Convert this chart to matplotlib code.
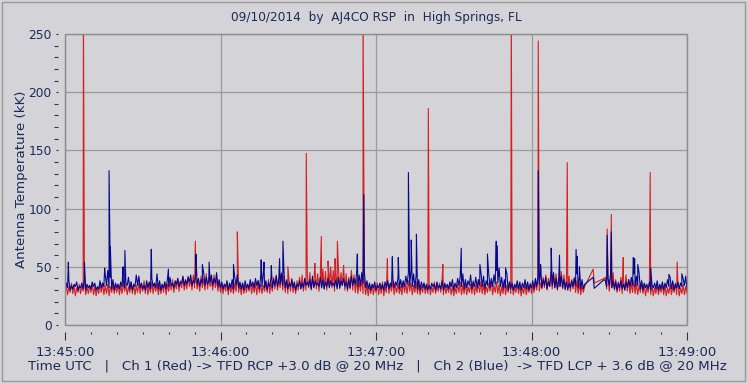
#!/usr/bin/env python3
"""Radio JOVE style strip chart: two channels of antenna temperature vs time."""

import numpy as np
import matplotlib
matplotlib.use("Agg")
import matplotlib.pyplot as plt
from matplotlib.patches import Rectangle

# Background band read per second from 13:45:00: lower and upper edge (None = no data)
BLUE_LO = [
    31, 32, 30, 31, 33, 30, 32, 31, 30, 32, 31, 33, 30, 31, 32, 33, 34, 32, 31, 30,
    32, 31, 33, 32, 34, 31, 30, 33, 34, 32, 31, 30, 32, 31, 33, 32, 31, 30, 32, 31,
    33, 34, 32, 35, 33, 36, 34, 35, 37, 34, 36, 35, 33, 36, 34, 35, 37, 34, 36, 33,
    32, 31, 33, 30, 32, 31, 34, 32, 31, 30, 32, 31, 33, 32, 34, 31, 33, 32, 30, 33,
    32, 34, 33, 35, 34, 32, 31, 33, 32, 30, 33, 31, 32, 34, 33, 31, 32, 34, 33, 32,
    31, 33, 32, 34, 33, 31, 32, 34, 33, 31, 32, 34, 35, 33, 34, 36, 32, 31, 30, 32,
    30, 32, 31, 30, 32, 31, 33, 32, 34, 31, 32, 33, 35, 34, 33, 32, 31, 30, 32, 31,
    30, 31, 33, 30, 32, 31, 30, 32, 31, 33, 30, 32, 34, 33, 31, 32, 34, 31, 33, 32,
    34, 33, 31, 34, 32, 33, 35, 36, 33, 31, 32, 30, 31, 30, 32, 31, 30, 32, 31, 30,
    32, 31, 33, 35, 32, 34, 31, 33, 34, 32, 31, 33, 32, 31, 30, 32, 33, 34, 32, 31,
    31, None, None, None, None, None, None, None, 39, 33, 34, 32, 31, 30, 32, 31, 30, 32, 33, 34,
    33, 34, 31, 30, 32, 31, 30, 32, 31, 30, 31, 30, 32, 33, 31, 30, 32, 31, 33, 34,
    31,
]
BLUE_HI = [
    36, 38, 34, 35, 37, 33, 36, 39, 35, 34, 37, 36, 33, 38, 36, 44, 47, 41, 39, 36,
    35, 37, 38, 36, 41, 37, 35, 43, 42, 36, 34, 38, 37, 40, 36, 44, 38, 35, 37, 39,
    41, 36, 38, 40, 37, 42, 39, 41, 43, 38, 44, 40, 39, 45, 41, 38, 43, 40, 45, 39,
    37, 35, 38, 36, 39, 41, 43, 37, 36, 38, 35, 39, 37, 40, 38, 42, 44, 38, 36, 41,
    39, 42, 40, 44, 45, 38, 36, 39, 37, 35, 38, 36, 40, 37, 39, 42, 38, 36, 41, 39,
    37, 40, 38, 36, 39, 41, 38, 40, 37, 39, 42, 40, 44, 43, 45, 46, 38, 36, 35, 37,
    34, 36, 35, 37, 38, 36, 40, 37, 41, 39, 38, 42, 45, 47, 44, 43, 39, 37, 36, 35,
    34, 36, 35, 37, 34, 38, 36, 35, 37, 39, 36, 40, 42, 44, 39, 38, 43, 37, 41, 39,
    45, 42, 38, 44, 40, 43, 47, 49, 41, 39, 44, 37, 36, 35, 38, 37, 36, 39, 37, 35,
    38, 40, 42, 46, 39, 41, 37, 43, 45, 40, 38, 42, 39, 37, 36, 38, 40, 44, 42, 39,
    35, None, None, None, None, None, None, None, 38, 40, 44, 38, 37, 36, 38, 35, 37, 39, 41, 44,
    42, 45, 38, 36, 35, 37, 34, 36, 38, 35, 37, 36, 39, 41, 38, 35, 37, 36, 40, 42,
    36,
]
RED_LO = [
    27, 26, 28, 27, 25, 28, 27, 29, 26, 27, 28, 26, 25, 27, 28, 26, 27, 25, 28, 27,
    28, 26, 27, 29, 26, 28, 27, 26, 28, 27, 29, 27, 26, 28, 27, 29, 26, 27, 28, 26,
    29, 30, 28, 31, 29, 32, 30, 31, 33, 30, 32, 31, 29, 32, 30, 31, 33, 30, 32, 29,
    28, 27, 29, 26, 28, 27, 29, 28, 26, 27, 28, 29, 27, 28, 26, 28, 27, 29, 28, 27,
    29, 31, 30, 32, 30, 28, 27, 29, 28, 27, 30, 31, 29, 30, 32, 30, 33, 31, 29, 32,
    31, 30, 33, 32, 29, 33, 31, 34, 30, 29, 31, 30, 28, 27, 29, 27, 26, 25, 27, 26,
    28, 26, 27, 25, 28, 27, 29, 26, 28, 27, 26, 28, 27, 29, 26, 28, 27, 26, 28, 27,
    27, 26, 28, 27, 29, 28, 26, 27, 28, 26, 25, 27, 28, 26, 27, 26, 28, 27, 26, 28,
    28, 27, 26, 28, 29, 26, 28, 27, 25, 27, 26, 28, 27, 26, 28, 27, 25, 27, 26, 28,
    27, 28, 30, 29, 31, 32, 30, 33, 31, 32, 30, 33, 31, 30, 32, 29, 31, 28, 27, 26,
    28, None, None, None, None, None, None, None, 40, 31, 29, 32, 30, 28, 29, 27, 30, 29, 27, 28,
    27, 26, 28, 27, 25, 28, 26, 25, 27, 26, 28, 26, 25, 27, 26, 28, 26, 25, 27, 26,
    27,
]
RED_HI = [
    34, 33, 36, 34, 32, 35, 34, 37, 33, 34, 36, 33, 32, 35, 36, 34, 35, 33, 35, 34,
    35, 34, 36, 35, 33, 37, 35, 34, 36, 35, 38, 36, 34, 37, 35, 36, 34, 35, 37, 35,
    37, 39, 36, 40, 38, 41, 37, 42, 39, 43, 40, 38, 42, 40, 44, 41, 39, 43, 40, 38,
    36, 35, 37, 35, 34, 36, 38, 35, 36, 34, 35, 37, 35, 36, 38, 35, 34, 37, 39, 36,
    41, 43, 40, 45, 42, 39, 37, 40, 36, 38, 41, 43, 40, 42, 45, 39, 47, 44, 41, 48,
    46, 43, 50, 47, 42, 49, 45, 51, 44, 41, 47, 43, 39, 37, 40, 36, 34, 33, 35, 34,
    36, 34, 37, 33, 39, 35, 38, 34, 36, 33, 37, 35, 38, 36, 34, 37, 35, 33, 36, 34,
    35, 33, 37, 34, 36, 39, 35, 33, 36, 34, 32, 35, 37, 34, 36, 33, 35, 38, 34, 36,
    37, 35, 33, 36, 38, 34, 37, 35, 33, 36, 34, 37, 35, 33, 36, 34, 32, 35, 33, 36,
    34, 37, 39, 36, 41, 43, 40, 45, 42, 44, 41, 46, 43, 40, 42, 39, 41, 38, 36, 34,
    33, None, None, None, None, None, None, None, 41, 43, 40, 45, 39, 37, 41, 38, 43, 39, 36, 38,
    36, 34, 37, 35, 33, 36, 34, 32, 35, 33, 36, 34, 32, 35, 33, 36, 34, 32, 35, 33,
    34,
]

# Short bursts: seconds after 13:45:00 and level (kK)
RED_SPIKE_T = [7.1, 50.3, 66.5, 86.0, 93.1, 96.4, 98.9, 101.5, 104.2, 105.1, 107.5,
               115.0, 124.4, 140.2, 145.8, 172.2, 182.6, 193.8, 203.8, 204.2,
               209.2, 210.8, 215.4, 225.8, 236.2]
RED_SPIKE_V = [275, 72, 80, 50, 147.5, 53, 76, 55, 57, 72, 50,
               275, 57, 186, 52, 275, 244, 139.5, 48, 36,
               82.5, 95, 58, 131, 54]
BLUE_SPIKE_T = [1.3, 7.5, 15.3, 17.0, 17.5, 22.4, 23.1, 33.3, 39.9, 50.5, 53.0, 55.6,
                65.0, 75.7, 76.8, 79.6, 82.8, 84.1, 112.8, 115.3, 126.3, 128.6,
                132.5, 133.6, 135.6, 152.9, 160.1, 163.0, 166.4, 166.8, 170.0,
                182.6, 183.5, 187.6, 190.8, 197.2, 197.6, 198.5, 203.8, 204.2,
                209.2, 210.8, 219.3, 219.8, 221.0, 226.0, 233.0, 238.0]
BLUE_SPIKE_V = [54, 54, 49, 132.6, 67, 50, 64, 65, 48, 61, 52, 54,
                52, 56, 54, 51, 57, 72, 61, 112, 58.7, 58,
                131, 73, 78, 66, 52, 61, 72, 68, 49,
                132.6, 52, 66, 60, 65, 59, 50, 41, 31.5,
                77, 80, 58, 57, 52, 49, 43.5, 44]

TICK_LABELS = ["13:45:00", "13:46:00", "13:47:00", "13:48:00", "13:49:00"]
TITLE = "09/10/2014  by  AJ4CO RSP  in  High Springs, FL"
FOOTER = ("Time UTC   |   Ch 1 (Red) -> TFD RCP +3.0 dB @ 20 MHz   |   "
          "Ch 2 (Blue)  -> TFD LCP + 3.6 dB @ 20 MHz")

BG = "#d4d4d8"
TXT = "#1c2a58"


def series(lo, hi, spike_t, spike_v):
    # low edge at the start of each second, high edge half a second later
    t, v = [], []
    for i, (a, b) in enumerate(zip(lo, hi)):
        if a is None:
            continue
        t += [i, i + 0.5]
        v += [a, b]
    t = np.array(t + list(spike_t), dtype=float)
    v = np.array(v + list(spike_v), dtype=float)
    order = np.argsort(t, kind="stable")
    return t[order], v[order]


fig = plt.figure(figsize=(7.47, 3.83), dpi=100, facecolor=BG)
ax = fig.add_axes([65 / 747, 58 / 383, 622 / 747, 291 / 383], facecolor=BG)

rt, rv = series(RED_LO, RED_HI, RED_SPIKE_T, RED_SPIKE_V)
bt, bv = series(BLUE_LO, BLUE_HI, BLUE_SPIKE_T, BLUE_SPIKE_V)
ax.plot(rt, rv, color="#d42020", lw=0.8, zorder=3)
ax.plot(bt, bv, color="#08088c", lw=0.8, zorder=4)

ax.set_xlim(0, 240)
ax.set_ylim(0, 250)

ax.set_xticks(np.arange(0, 241, 60))
ax.set_xticks(np.arange(0, 241, 10), minor=True)
ax.set_xticklabels(TICK_LABELS)
ax.set_yticks(np.arange(0, 251, 50))
ax.set_yticks(np.arange(0, 251, 10), minor=True)

ax.grid(True, which="major", color="#9a9a9a", lw=0.9, zorder=1)

# ticks sit a few pixels away from the frame
for s in ["left", "bottom"]:
    ax.spines[s].set_position(("outward", 5))
for s in ax.spines.values():
    s.set_color("none")
ax.add_patch(Rectangle((0, 0), 1, 1, transform=ax.transAxes, fill=False,
                       edgecolor="#8c8c8c", lw=1.0, clip_on=False, zorder=5))

ax.tick_params(axis="x", which="major", length=6, width=0.8, color="#333333",
               pad=4, labelsize=9.5, labelcolor=TXT)
ax.tick_params(axis="x", which="minor", length=1.5, width=0.8, color="#333333")
ax.tick_params(axis="y", which="major", length=1.5, width=0.8, color="#333333",
               pad=3, labelsize=8.8, labelcolor=TXT)
ax.tick_params(axis="y", which="minor", length=3, width=0.8, color="#333333")

ax.set_ylabel("Antenna Temperature (kK)", fontsize=9.6, color=TXT, labelpad=0)

fig.text(376 / 747, 1 - 18 / 383, TITLE, ha="center", va="center",
         fontsize=8.7, color=TXT)
fig.text(377 / 747, 1 - 366 / 383, FOOTER, ha="center", va="center",
         fontsize=9.6, color=TXT)

fig.add_artist(Rectangle((2 / 747, 2 / 383), 743 / 747, 379 / 383,
                         transform=fig.transFigure, fill=False,
                         edgecolor="#9a9a9a", lw=1.0))

fig.savefig("out.png", dpi=100, facecolor=BG)
